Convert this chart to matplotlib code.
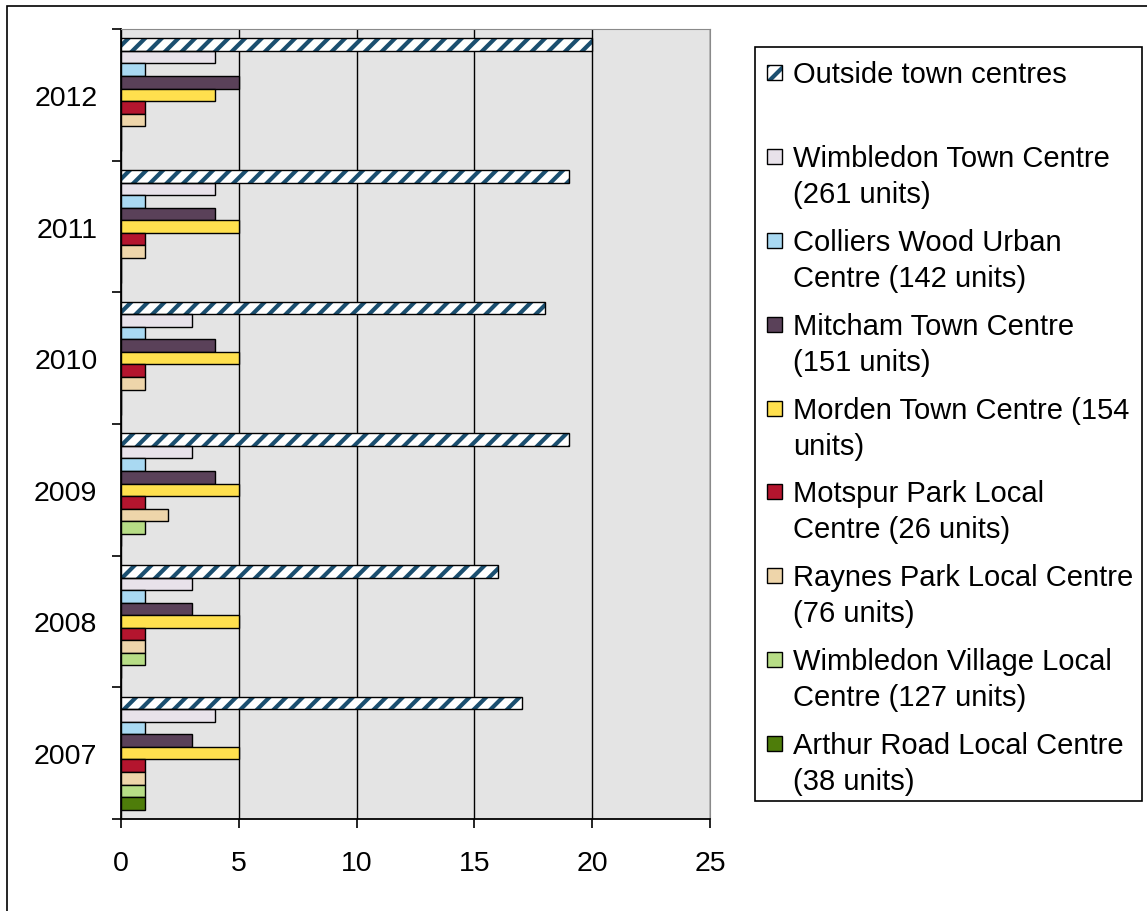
import matplotlib.pyplot as plt
from matplotlib.patches import Rectangle

plt.rcParams['font.family'] = ['Liberation Sans', 'DejaVu Sans']
plt.rcParams['hatch.linewidth'] = 3.0

# date
ani = ['2007', '2008', '2009', '2010', '2011', '2012']
serii = ['Outside town centres',
         'Wimbledon Town Centre\n(261 units)',
         'Colliers Wood Urban\nCentre (142 units)',
         'Mitcham Town Centre\n(151 units)',
         'Morden Town Centre (154\nunits)',
         'Motspur Park Local\nCentre (26 units)',
         'Raynes Park Local Centre\n(76 units)',
         'Wimbledon Village Local\nCentre (127 units)',
         'Arthur Road Local Centre\n(38 units)']
outside = [17, 16, 19, 18, 19, 20]
wimbledon_tc = [4, 3, 3, 3, 4, 4]
colliers = [1, 1, 1, 1, 1, 1]
mitcham = [3, 3, 4, 4, 4, 5]
morden = [5, 5, 5, 5, 5, 4]
motspur = [1, 1, 1, 1, 1, 1]
raynes = [1, 1, 2, 1, 1, 1]
wimbledon_village = [1, 1, 1, 0, 0, 0]
arthur_road = [1, 0, 0, 0, 0, 0]
valori = [outside, wimbledon_tc, colliers, mitcham, morden, motspur,
          raynes, wimbledon_village, arthur_road]
culori = ['white', '#E8E2EA', '#A9D9F2', '#5A4159', '#FFE04E',
          '#B4152E', '#EED5AA', '#B7DD86', '#4E7D0A']
culoare_hasura = '#1B4F70'

W, H = 1147, 912
fig = plt.figure(figsize=(W / 100, H / 100), dpi=100)
ax = fig.add_axes([121 / W, 1 - 820 / H, (710 - 121) / W, (820 - 30) / H])
ax.set_facecolor('#E4E4E4')

h = 0.0953
n = len(serii)
for k in range(n):
    poz = [i + (n / 2 - 0.5 - k) * h for i in range(len(ani))]
    if k == 0:
        ax.barh(poz, valori[k], height=h, color='white', edgecolor=culoare_hasura,
                hatch='//', linewidth=0, zorder=2)
        ax.barh(poz, valori[k], height=h, fill=False, edgecolor='black',
                linewidth=1.0, zorder=2.1)
    else:
        ax.barh(poz, valori[k], height=h, color=culori[k], edgecolor='black',
                linewidth=1.0, zorder=2)

ax.set_xlim(0, 25)
ax.set_ylim(-0.5, 5.5)
ax.set_xticks(range(0, 26, 5))
ax.set_xticklabels([str(v) for v in range(0, 26, 5)], fontsize=20.5)
ax.set_yticks([i - 0.5 for i in range(len(ani) + 1)])
ax.set_yticklabels([])
ax.set_yticks(range(len(ani)), minor=True)
ax.set_yticklabels(ani, minor=True, fontsize=20.5)
ax.tick_params(axis='y', which='minor', length=0, pad=17)
ax.tick_params(axis='y', which='major', length=6.5, width=1.2, direction='out')
ax.tick_params(axis='x', length=6.5, width=1.2, direction='out', pad=16)
ax.set_axisbelow(True)
ax.grid(axis='x', color='black', linewidth=1.0)
ax.spines['left'].set_color('black')
ax.spines['bottom'].set_color('black')
ax.spines['left'].set_linewidth(1.3)
ax.spines['bottom'].set_linewidth(1.3)
ax.spines['top'].set_color('#8A8A8A')
ax.spines['right'].set_color('#8A8A8A')

# chenar exterior (doar stanga si sus se vad)
fig.add_artist(Rectangle((7 / W, -0.1), 1.2, 1.1 - 7 / H, transform=fig.transFigure,
                         fill=False, edgecolor='black', linewidth=1.2))

# legenda desenata manual
def px(x, y):
    return x / W, 1 - y / H

x0, y0 = px(755, 802)
fig.add_artist(Rectangle((x0, y0), (1142 - 755) / W, (802 - 48) / H,
                         transform=fig.transFigure, facecolor='white',
                         edgecolor='black', linewidth=1.2))
centre = [73, 157, 241, 325, 409, 492, 576, 660, 744]
for k in range(n):
    c = centre[k]
    hx, hy = px(767, c + 7.5)
    if k == 0:
        fig.add_artist(Rectangle((hx, hy), 15 / W, 15 / H, transform=fig.transFigure,
                                 facecolor='white', edgecolor=culoare_hasura,
                                 hatch='//', linewidth=0))
        fig.add_artist(Rectangle((hx, hy), 15 / W, 15 / H, transform=fig.transFigure,
                                 fill=False, edgecolor='black', linewidth=1.0))
    else:
        fig.add_artist(Rectangle((hx, hy), 15 / W, 15 / H, transform=fig.transFigure,
                                 facecolor=culori[k], edgecolor='black', linewidth=1.0))
    for j, linie in enumerate(serii[k].split('\n')):
        tx, ty = px(793, c + 10 + 36 * j)
        fig.text(tx, ty, linie, fontsize=21, va='baseline', ha='left')

fig.savefig('out.png', dpi=100)
